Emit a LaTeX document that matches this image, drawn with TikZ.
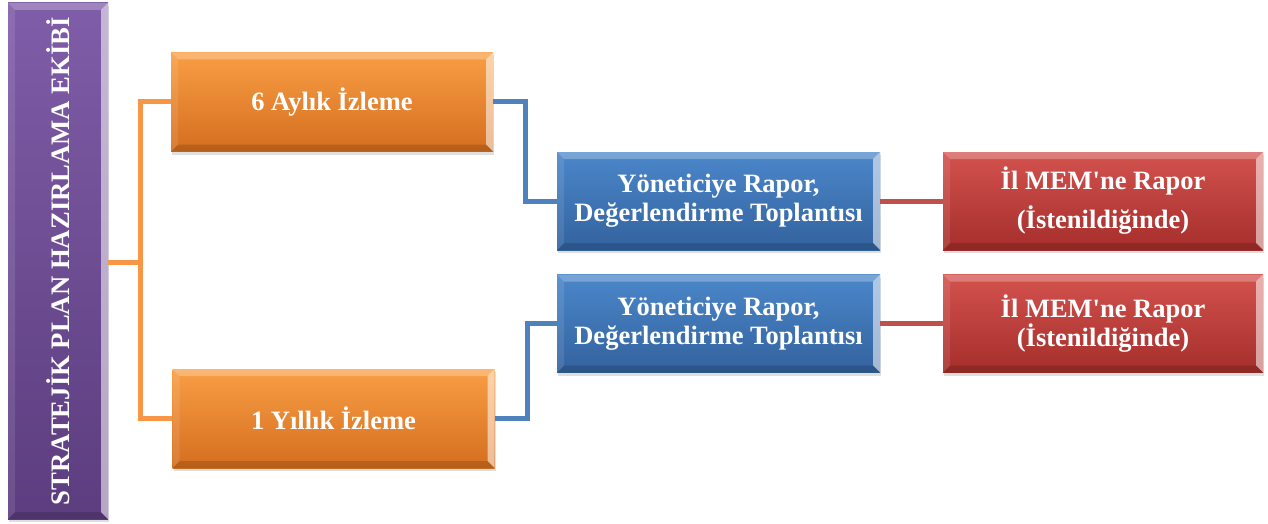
\documentclass[tikz,border=0pt]{standalone}
\usepackage{fontspec}
\setmainfont{Liberation Serif}[Ligatures=TeXOff]
\usepackage{graphicx}
\usetikzlibrary{shadows,calc}
\definecolor{orTop}{HTML}{F99E45}
\definecolor{orBot}{HTML}{D46E1F}
\definecolor{orLine}{HTML}{F79646}
\definecolor{blTop}{HTML}{4B87CA}
\definecolor{blBot}{HTML}{33629E}
\definecolor{blLine}{HTML}{4F81BD}
\definecolor{rdTop}{HTML}{D3524E}
\definecolor{rdBot}{HTML}{A52E2B}
\definecolor{rdLine}{HTML}{C0504D}
\definecolor{puTop}{HTML}{7F5DA8}
\definecolor{puBot}{HTML}{5C3D7E}
\tikzset{
  bevel/.style={path picture={
    \coordinate (bnw) at (path picture bounding box.north west);
    \coordinate (bne) at (path picture bounding box.north east);
    \coordinate (bsw) at (path picture bounding box.south west);
    \coordinate (bse) at (path picture bounding box.south east);
    \fill[white,opacity=.25] (bnw) -- (bne) -- ([xshift=-7pt,yshift=-7pt]bne) -- ([xshift=7pt,yshift=-7pt]bnw) -- cycle;
    \fill[white,opacity=.55] (bne) -- (bse) -- ([xshift=-7pt,yshift=7pt]bse) -- ([xshift=-7pt,yshift=-7pt]bne) -- cycle;
    \fill[black,opacity=.14] (bsw) -- (bse) -- ([xshift=-7pt,yshift=7pt]bse) -- ([xshift=7pt,yshift=7pt]bsw) -- cycle;
    \fill[white,opacity=.10] (bnw) -- (bsw) -- ([xshift=7pt,yshift=7pt]bsw) -- ([xshift=7pt,yshift=-7pt]bnw) -- cycle;
  }},
  box/.style={rectangle, inner sep=0pt, align=center, text=white,
    font=\fontsize{26.5}{29}\selectfont\bfseries,
    drop shadow={opacity=.25, shadow xshift=1pt, shadow yshift=-3pt}, bevel},
  obox/.style={box, top color=orTop, bottom color=orBot, minimum width=322pt, minimum height=99pt},
  bbox/.style={box, top color=blTop, bottom color=blBot, minimum width=323pt, minimum height=98pt},
  rbox/.style={box, top color=rdTop, bottom color=rdBot, minimum width=320pt, minimum height=98pt},
  pbox/.style={box, top color=puTop, bottom color=puBot, minimum width=100pt, minimum height=516pt,
    font=\fontsize{26.7}{30}\selectfont\bfseries},
  oline/.style={draw=orLine, line width=5pt},
  bline/.style={draw=blLine, line width=5pt},
  rline/.style={draw=rdLine, line width=5pt},
}
\begin{document}
\begin{tikzpicture}[x=1pt,y=-1pt]
\useasboundingbox[fill=white] (0,0) rectangle (1268,524);
\coordinate (oj) at (140,262);
\node[pbox] (team) at (58,261) {\rotatebox{90}{STRATEJİK PLAN HAZIRLAMA EKİBİ}};
\node[obox] (o1) at (332,102) {6 Aylık İzleme};
\node[obox] (o2) at (333.5,418.5) {1 Yıllık İzleme};
\node[bbox] (b1) at (718.5,201) {Yöneticiye Rapor,\\Değerlendirme Toplantısı};
\node[bbox] (b2) at (718.5,323.5) {Yöneticiye Rapor,\\Değerlendirme Toplantısı};
\node[rbox] (r1) at (1103,201) {İl MEM'ne Rapor\\[10pt](İstenildiğinde)};
\node[rbox] (r2) at (1103,323.5) {İl MEM'ne Rapor\\(İstenildiğinde)};
\draw[oline] (team.east |- oj) -- (oj);
\draw[oline] (o1.west) -| (oj) |- (o2.west);
\draw[bline] (o1.east) -- ++(32,0) |- (b1.west);
\draw[bline] (o2.east) -- ++(33,0) |- (b2.west);
\draw[rline] (b1.east) -- (r1.west);
\draw[rline] (b2.east) -- (r2.west);
\end{tikzpicture}
\end{document}
